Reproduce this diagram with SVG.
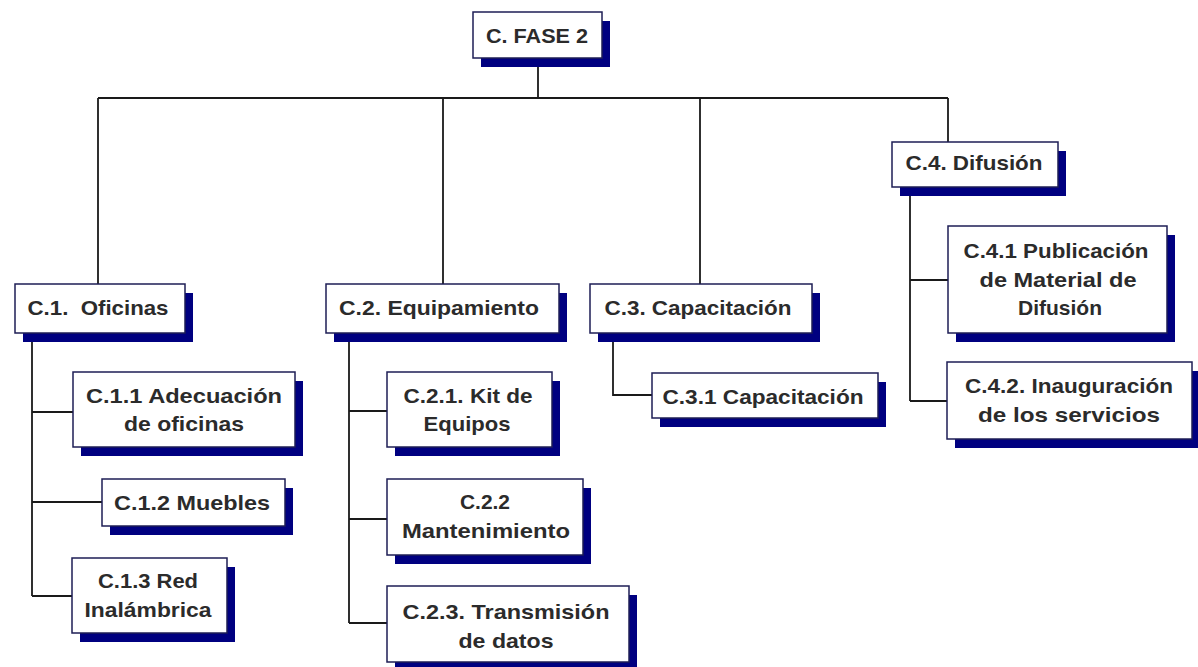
<svg xmlns="http://www.w3.org/2000/svg" width="1198" height="667" viewBox="0 0 1198 667">
  <style>
    .shadow { fill: #000080; }
    .box { fill: #ffffff; stroke: #1e1e55; stroke-width: 1.5; }
    .lbl { font-family: "Liberation Sans", Arial, sans-serif; font-weight: bold; font-size: 21px; fill: #2b2b2b; text-anchor: middle; white-space: pre; }
    .conn { stroke: #1a1a1a; stroke-width: 1.8; fill: none; }
  </style>
  <rect x="0" y="0" width="1198" height="667" fill="#ffffff"/>

  <!-- tree connectors -->
  <g id="connectors" class="conn">
    <path d="M538 58 V98 M98 98 H948 M98 98 V284 M443 98 V284 M700 98 V284 M948 98 V142"/>
    <path d="M32 342 V596 M32 412 H73 M32 502 H102 M32 596 H72"/>
    <path d="M349 342 V623 M349 411 H387 M349 519 H387 M349 623 H387"/>
    <path d="M613 342 V395 H652"/>
    <path d="M910 195 V401 M910 280 H948 M910 401 H947"/>
  </g>

  <g id="root">
    <rect class="shadow" x="481" y="21" width="129" height="46"/>
    <rect class="box" x="473" y="12" width="129" height="46"/>
    <text class="lbl" x="537" y="43" font-size="24" textLength="102" lengthAdjust="spacingAndGlyphs">C. FASE 2</text>
  </g>

  <g id="c1">
    <rect class="shadow" x="23" y="293" width="170" height="49"/>
    <rect class="box" x="15" y="284" width="170" height="49"/>
    <text class="lbl" x="98" y="315" textLength="141" lengthAdjust="spacingAndGlyphs">C.1.  Oficinas</text>
  </g>
  <g id="c11">
    <rect class="shadow" x="81" y="381" width="222" height="75"/>
    <rect class="box" x="73" y="372" width="222" height="75"/>
    <text class="lbl" x="184" y="403" textLength="196" lengthAdjust="spacingAndGlyphs">C.1.1 Adecuación</text>
    <text class="lbl" x="184" y="431" textLength="120" lengthAdjust="spacingAndGlyphs">de oficinas</text>
  </g>
  <g id="c12">
    <rect class="shadow" x="110" y="488" width="183" height="47"/>
    <rect class="box" x="102" y="479" width="183" height="47"/>
    <text class="lbl" x="192" y="510" textLength="156" lengthAdjust="spacingAndGlyphs">C.1.2 Muebles</text>
  </g>
  <g id="c13">
    <rect class="shadow" x="80" y="567" width="155" height="75"/>
    <rect class="box" x="72" y="558" width="155" height="75"/>
    <text class="lbl" x="148" y="588" textLength="100" lengthAdjust="spacingAndGlyphs">C.1.3 Red</text>
    <text class="lbl" x="148" y="617" textLength="127" lengthAdjust="spacingAndGlyphs">Inalámbrica</text>
  </g>

  <g id="c2">
    <rect class="shadow" x="334" y="293" width="233" height="49"/>
    <rect class="box" x="326" y="284" width="233" height="49"/>
    <text class="lbl" x="439" y="315" textLength="200" lengthAdjust="spacingAndGlyphs">C.2. Equipamiento</text>
  </g>
  <g id="c21">
    <rect class="shadow" x="395" y="381" width="165" height="75"/>
    <rect class="box" x="387" y="372" width="165" height="75"/>
    <text class="lbl" x="468" y="403" textLength="129" lengthAdjust="spacingAndGlyphs">C.2.1. Kit de</text>
    <text class="lbl" x="467" y="431" textLength="87" lengthAdjust="spacingAndGlyphs">Equipos</text>
  </g>
  <g id="c22">
    <rect class="shadow" x="395" y="488" width="196" height="76"/>
    <rect class="box" x="387" y="479" width="196" height="76"/>
    <text class="lbl" x="485" y="509" textLength="50" lengthAdjust="spacingAndGlyphs">C.2.2</text>
    <text class="lbl" x="486" y="538" textLength="168" lengthAdjust="spacingAndGlyphs">Mantenimiento</text>
  </g>
  <g id="c23">
    <rect class="shadow" x="395" y="595" width="242" height="76"/>
    <rect class="box" x="387" y="586" width="242" height="76"/>
    <text class="lbl" x="506" y="619" textLength="207" lengthAdjust="spacingAndGlyphs">C.2.3. Transmisión</text>
    <text class="lbl" x="506" y="648" textLength="95" lengthAdjust="spacingAndGlyphs">de datos</text>
  </g>

  <g id="c3">
    <rect class="shadow" x="598" y="293" width="222" height="49"/>
    <rect class="box" x="590" y="284" width="222" height="49"/>
    <text class="lbl" x="698" y="315" textLength="187" lengthAdjust="spacingAndGlyphs">C.3. Capacitación</text>
  </g>
  <g id="c31">
    <rect class="shadow" x="660" y="382" width="226" height="45"/>
    <rect class="box" x="652" y="373" width="226" height="45"/>
    <text class="lbl" x="763" y="404" textLength="201" lengthAdjust="spacingAndGlyphs">C.3.1 Capacitación</text>
  </g>

  <g id="c4">
    <rect class="shadow" x="900" y="151" width="166" height="45"/>
    <rect class="box" x="892" y="142" width="166" height="45"/>
    <text class="lbl" x="974" y="170" textLength="137" lengthAdjust="spacingAndGlyphs">C.4. Difusión</text>
  </g>
  <g id="c41">
    <rect class="shadow" x="956" y="235" width="219" height="107"/>
    <rect class="box" x="948" y="226" width="219" height="107"/>
    <text class="lbl" x="1056" y="258" textLength="185" lengthAdjust="spacingAndGlyphs">C.4.1 Publicación</text>
    <text class="lbl" x="1058" y="287" textLength="157" lengthAdjust="spacingAndGlyphs">de Material de</text>
    <text class="lbl" x="1060" y="315" textLength="84" lengthAdjust="spacingAndGlyphs">Difusión</text>
  </g>
  <g id="c42">
    <rect class="shadow" x="955" y="371" width="245" height="77"/>
    <rect class="box" x="947" y="362" width="245" height="77"/>
    <text class="lbl" x="1069" y="393" textLength="208" lengthAdjust="spacingAndGlyphs">C.4.2. Inauguración</text>
    <text class="lbl" x="1069" y="422" textLength="182" lengthAdjust="spacingAndGlyphs">de los servicios</text>
  </g>
</svg>
